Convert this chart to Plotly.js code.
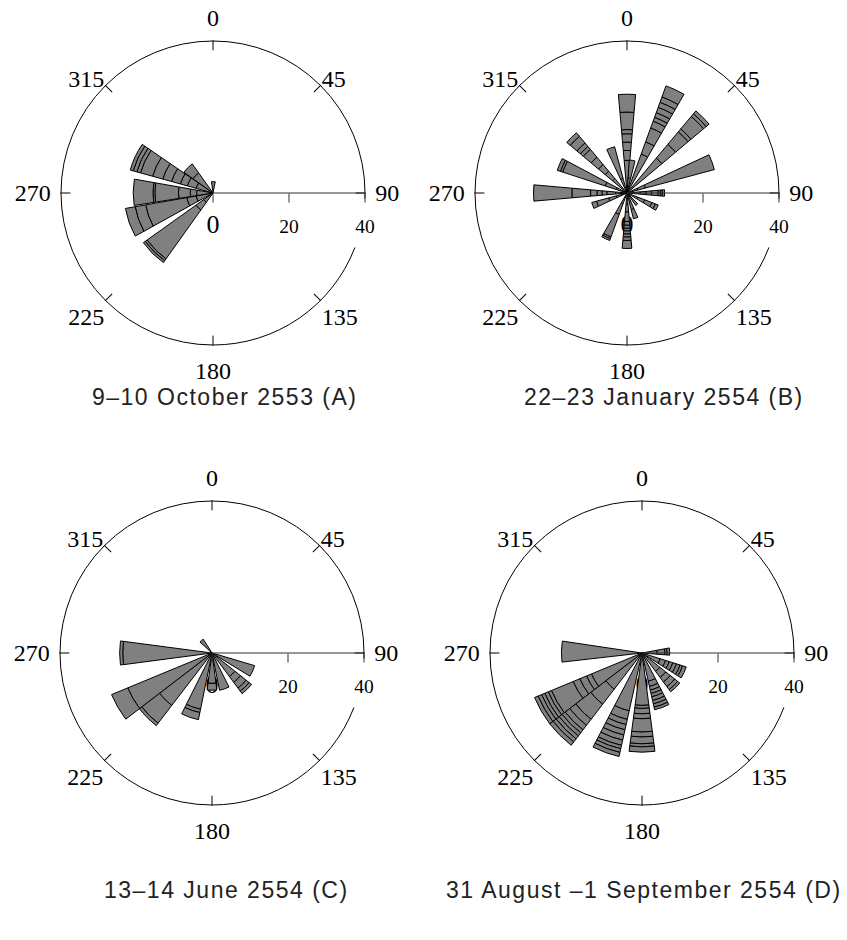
<!DOCTYPE html>
<html><head><meta charset="utf-8">
<script src="https://cdn.plot.ly/plotly-3.0.1.min.js"></script>
<style>
body{margin:0;background:#fff}
.annotation-text{letter-spacing:1.5px}
</style>
</head><body><div id="chart" style="width:847px;height:940px"></div>
<script>
// ---- Data (direction in degrees, cumulative radii of the stacked segments) ----
const A_dir = [2, 225, 250.5, 270.5, 295, 315];
const A_bounds = [
  [3],
  [3, 5.5, 21.3, 21.9, 22.5],
  [4.5, 7, 18, 20.8, 23.4],
  [4.3, 6, 9.1, 15.3, 15.8, 21],
  [4.6, 7, 8.9, 11.3, 13.7, 16.5, 19.8, 20.8, 21.8, 22.6],
  [6.5, 9.4]
];

const B_dir = [0, 9, 25, 45, 70, 90, 116, 140, 161, 180, 205, 250, 270, 293, 315, 340];
const B_bounds = [
  [8.6, 11.2, 13.4, 15.6, 16.7, 21.3, 26],
  [4, 8.7],
  [10.9, 14.3, 18.2, 20.1, 21.2, 22.5, 24, 25.4, 26.9, 30],
  [12, 16.7, 21, 22, 26.3, 27.2, 28.2],
  [3, 5, 23.8],
  [3.5, 5, 6.5, 8.2, 8.8, 9.3, 9.9],
  [3, 5, 7, 8, 8.8],
  [4],
  [2.5, 4.5, 7],
  [3, 5, 7.5, 8.5, 9.3, 10, 10.8, 11.6, 12.5, 14.6],
  [3, 6, 12.3, 12.8, 13.3],
  [3, 5, 8.3, 9.6],
  [3, 5.3, 6.6, 7.9, 9.6, 14.5, 24.6],
  [3, 6, 17.8, 18.4, 19.3],
  [5, 7.5, 9.8, 12.3, 15, 16, 17.2, 19.5, 20.7],
  [4, 12.6]
];

const C_dir = [114, 136, 161, 180, 199, 225, 240, 270, 320];
const C_bounds = [
  [11.7],
  [7.7, 9.6, 11.5, 12.5, 13.3],
  [10],
  [8, 9.8],
  [15.1, 16, 17.9],
  [17.4, 23.3, 24.1],
  [24, 28.6],
  [23.5, 24.3],
  [4.3]
];

const D_dir = [87, 115, 136, 160, 180, 200, 225, 240, 271];
const D_bounds = [
  [4, 6, 6.6, 7.3],
  [5, 6.5, 7.5, 8.5, 9.5, 10.5, 11.2, 12.2],
  [6, 8, 9.5, 11, 12, 12.7],
  [7.6, 9, 10, 10.9, 11.8, 12.8, 13.7, 14.6, 15.3],
  [13.8, 14.6, 16, 17.3, 20.8, 22.1, 23.9, 24.7, 26.1],
  [15.6, 17.9, 19.3, 20.7, 22.1, 23.5, 24.9, 25.8, 26.8, 27.9],
  [12, 17, 22, 24, 25.5, 26.5, 27.5, 28.5, 29.5, 30.6],
  [14.4, 15.8, 17.7, 19.6, 25.8, 26.7, 27.7, 28.6, 29.6, 30.6],
  [21.2]
];

const angleTicks = [0, 45, 90, 135, 180, 225, 270, 315];
const diagLabels = ['', '45', '', '135', '', '225', '', '315'];
const cardTicks = [0, 90, 180, 270];
const cardLabels = ['0', '90', '180', '270'];
const radialTicks = [0, 20, 40];
const radialLabels = ['<span style="font-size:26px">0</span>', '20', '40'];
const titles = ['9\u201310 October 2553 (A)', '22\u201323 January 2554 (B)',
                '13\u201314 June 2554 (C)', '31 August \u20131 September 2554 (D)'];

// ---- Layout geometry ----
const W = 847, H = 940, R = 152;
const RMAX = 40, RING_PAD = 40.3;            // frame axis runs a bit past 40 so the r=40 ring is kept
const centers = [[213, 193], [627, 193], [212, 653], [642, 653]];
const widths = [19, 10, 15, 15];
const titlePos = [[224, 397], [664, 397], [226, 890], [644, 890]];
// outer circle drawn as the r=40 grid ring, with a short break just below the 90 direction
const ringDash = '899px,50px,20px,0px';

function dom(c, rad) {
  return {x: [(c[0] - rad) / W, (c[0] + rad) / W], y: [1 - (c[1] + rad) / H, 1 - (c[1] - rad) / H]};
}

const serif = 'Liberation Serif, Times New Roman, serif';
const angFont = {size: 24, family: serif, color: '#000'};
const panels = [[A_dir, A_bounds], [B_dir, B_bounds], [C_dir, C_bounds], [D_dir, D_bounds]];
const traces = [];
const layout = {
  width: W, height: H, margin: {l: 0, r: 0, t: 0, b: 0},
  paper_bgcolor: '#fff', showlegend: false,
  font: {family: serif, color: '#000'},
  annotations: []
};
const hiddenAng = {rotation: 90, direction: 'clockwise', visible: false};

panels.forEach((p, i) => {
  const frameKey = i === 0 ? 'polar' : 'polar' + (i + 1);
  const labKey = 'polar' + (i + 5);
  const dataKey = 'polar' + (i + 9);
  const d = dom(centers[i], R);
  // layer 1: outer ring + inside angular ticks + diagonal labels
  layout[frameKey] = {
    domain: dom(centers[i], R * RING_PAD / RMAX), bgcolor: 'rgba(0,0,0,0)',
    angularaxis: {
      rotation: 90, direction: 'clockwise', tickmode: 'array',
      tickvals: angleTicks, ticktext: diagLabels,
      ticks: 'inside', ticklen: 10, tickcolor: '#000', tickwidth: 1,
      showgrid: false, showline: false, tickfont: angFont
    },
    radialaxis: {
      range: [0, RING_PAD], angle: 0, tickmode: 'array', tickvals: [RMAX],
      ticks: '', showticklabels: false, showline: false,
      showgrid: true, gridcolor: '#000', gridwidth: 1, griddash: ringDash
    }
  };
  // layer 2: cardinal labels + radial tick labels (below the bars)
  layout[labKey] = {
    domain: d, bgcolor: 'rgba(0,0,0,0)',
    angularaxis: {
      rotation: 90, direction: 'clockwise', tickmode: 'array',
      tickvals: cardTicks, ticktext: cardLabels,
      ticks: 'outside', ticklen: 5, tickcolor: 'rgba(0,0,0,0)',
      showgrid: false, showline: false, tickfont: angFont
    },
    radialaxis: {
      range: [0, RMAX], angle: 0, side: 'clockwise', tickmode: 'array',
      tickvals: radialTicks, ticktext: radialLabels,
      ticks: 'outside', ticklen: 16, tickcolor: 'rgba(0,0,0,0)',
      showgrid: false, showline: false,
      tickfont: {size: 19.5, family: serif, color: '#000'}
    }
  };
  // layer 3: bars + radial axis line and ticks
  layout[dataKey] = {
    domain: d, bgcolor: 'rgba(0,0,0,0)', barmode: 'overlay',
    angularaxis: hiddenAng,
    radialaxis: {
      range: [0, RMAX], angle: 0, side: 'clockwise', tickmode: 'array',
      tickvals: radialTicks, ticks: 'outside', ticklen: 9, tickcolor: '#333', tickwidth: 1,
      showticklabels: false, showgrid: false, showline: true, linecolor: '#333', linewidth: 1
    }
  };
  traces.push({type: 'scatterpolar', r: [], theta: [], subplot: frameKey, hoverinfo: 'skip'});
  traces.push({type: 'scatterpolar', r: [], theta: [], subplot: labKey, hoverinfo: 'skip'});

  const theta = [], r = [], base = [];
  p[0].forEach((dir, k) => {
    let prev = 0;
    p[1][k].forEach(b => {
      theta.push(dir); r.push(b - prev); base.push(prev); prev = b;
    });
  });
  traces.push({
    type: 'barpolar', subplot: dataKey, theta: theta, r: r, base: base,
    width: widths[i],
    marker: {color: '#808080', line: {color: '#000', width: 1}},
    hoverinfo: 'skip'
  });

  layout.annotations.push({
    text: titles[i], xref: 'paper', yref: 'paper',
    x: titlePos[i][0] / W, y: 1 - titlePos[i][1] / H,
    xanchor: 'center', yanchor: 'middle', showarrow: false,
    font: {family: 'Liberation Sans, Arial, sans-serif', size: 23, color: '#222'}
  });
});

Plotly.newPlot('chart', traces, layout, {staticPlot: true});
</script>
</body></html>
